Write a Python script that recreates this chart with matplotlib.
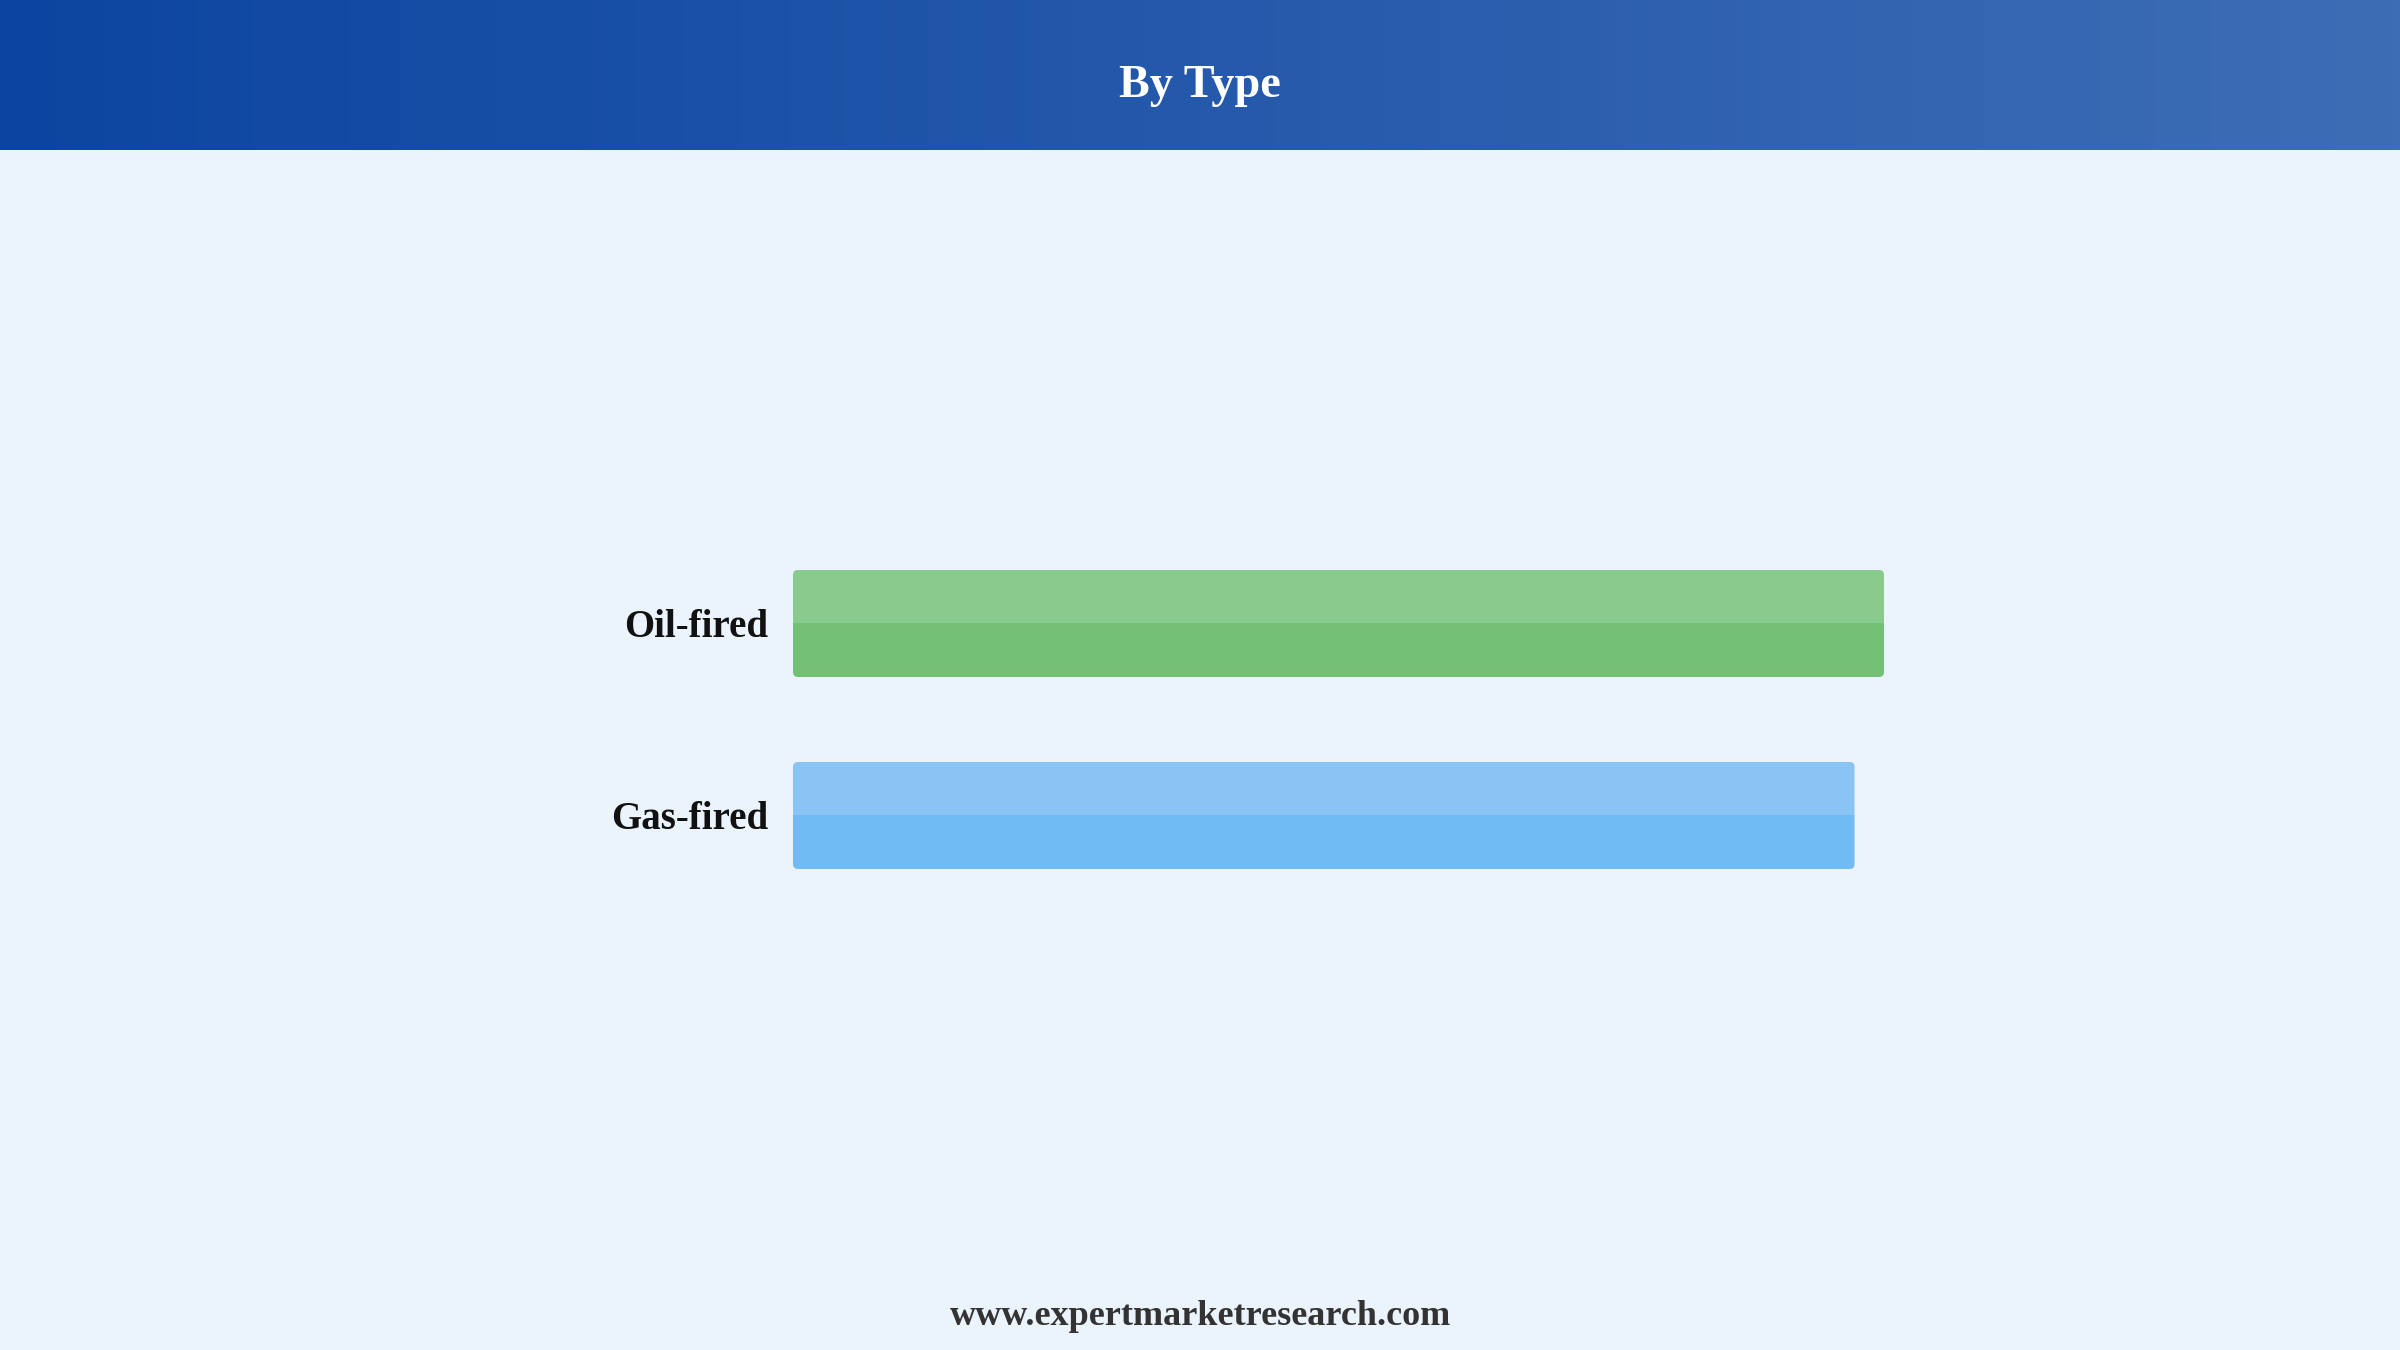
import numpy as np
import matplotlib
matplotlib.use("Agg")
import matplotlib.pyplot as plt
from matplotlib.patches import FancyBboxPatch
from matplotlib.colors import LinearSegmentedColormap

# ---- data ----
categories = ["Oil-fired", "Gas-fired"]
values = [100.0, 97.3]
title = "By Type"
footer = "www.expertmarketresearch.com"

# ---- styles ----
colors_top = ["#88cb8c", "#89c4f5"]
colors_bottom = ["#73c077", "#71bbf4"]
bg = "#ebf3fc"
W, H, DPI = 2400, 1350, 100
serif = ["Liberation Serif", "DejaVu Serif"]

fig = plt.figure(figsize=(W / DPI, H / DPI), dpi=DPI, facecolor=bg)

# header gradient
hdr_h = 150 / H
hax = fig.add_axes([0, 1 - hdr_h, 1, hdr_h])
cmap = LinearSegmentedColormap.from_list("hdr", ["#0c45a1", "#3d6db5"])
hax.imshow(np.linspace(0, 1, 256)[None, :], aspect="auto", cmap=cmap,
           extent=[0, 1, 0, 1])
hax.set_axis_off()
fig.text(0.5, 1 - 97 / H, title, ha="center", va="baseline", color="white",
         fontsize=33.3, fontweight="bold", family=serif)

# main bar axes
x0, x1 = 793, 1884
bar_px = 107
step_px = 192
h = bar_px / step_px
top_px = 570
bot_px = top_px + step_px + bar_px
ax = fig.add_axes([x0 / W, 1 - bot_px / H, (x1 - x0) / W, (bot_px - top_px) / H])
ax.set_facecolor("none")
ax.set_xlim(0, max(values))
ax.set_ylim(len(categories) - 1 + h / 2, -h / 2)
ypos = np.arange(len(categories))

fig.canvas.draw()
# rounding radius in data units (about 5 px)
r_px = 5
px_per_x = (x1 - x0) / max(values)
px_per_y = step_px
r_x = r_px / px_per_x
aspect = (1 / px_per_y) / (1 / px_per_x)

for i, (cat, v) in enumerate(zip(categories, values)):
    clip = FancyBboxPatch((0, ypos[i] - h / 2), v, h,
                          boxstyle=f"round,pad=0,rounding_size={r_x}",
                          mutation_aspect=aspect, transform=ax.transData,
                          facecolor="none", edgecolor="none")
    ax.add_patch(clip)
    b1 = ax.barh(ypos[i] - h / 4, v, height=h / 2, color=colors_top[i], linewidth=0)
    b2 = ax.barh(ypos[i] + h / 4, v, height=h / 2, color=colors_bottom[i], linewidth=0)
    for b in list(b1) + list(b2):
        b.set_clip_path(clip)

ax.set_yticks(ypos)
ax.set_yticklabels(categories, fontsize=28.0, fontweight="bold", family=serif,
                   color="#111111")
ax.tick_params(axis="y", length=0, pad=18)
ax.set_xticks([])
for s in ax.spines.values():
    s.set_visible(False)

fig.text(0.5, 1 - 1325 / H, footer, ha="center", va="baseline", color="#333333",
         fontsize=26, fontweight="bold", family=serif)

fig.savefig("out.png", dpi=DPI, facecolor=bg)
